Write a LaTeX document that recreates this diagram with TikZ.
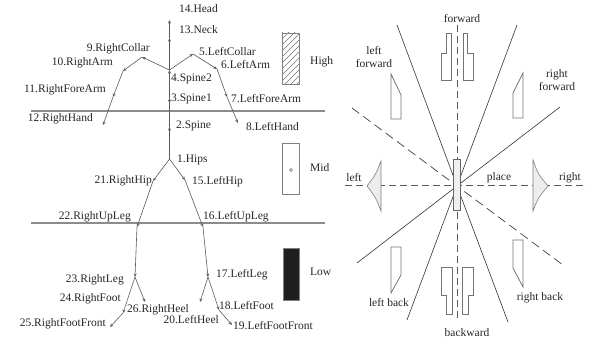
\documentclass[tikz,border=0pt]{standalone}
\usepackage{fontspec}
\setmainfont{Liberation Serif}
\usetikzlibrary{arrows.meta}
\tikzset{
  bone/.style={draw=black!65, line width=0.6pt, -{Stealth[length=3.6pt,width=3pt]}},
  lbl/.style={inner sep=0pt, font=\fontsize{11.5}{13}\selectfont, text=black!85},
  sep/.style={draw=black!45, line width=1.1pt},
  ray/.style={draw=black!80, line width=0.6pt},
  dray/.style={draw=black!75, line width=0.7pt, dash pattern=on 9pt off 5pt},
  axis/.style={draw=black!65, line width=1pt, dash pattern=on 7pt off 4pt},
  print/.style={draw=black!55, line width=0.8pt, fill=white},
  wedge/.style={draw=black!50, line width=0.6pt, fill=black!7},
  zone/.style={draw=black!50, line width=0.6pt}
}
\begin{document}
\begin{tikzpicture}[x=1pt,y=-1pt]
\useasboundingbox (0,0) rectangle (594,344);

% ---------- body-part zone separators ----------
\draw[sep] (31,111) -- (325,111);
\draw[sep] (31,223) -- (325,223);

% ---------- skeleton joints ----------
\coordinate (hips)   at (169.5,159);
\coordinate (spine)  at (169.5,127);
\coordinate (spinea) at (169.5,98);
\coordinate (spineb) at (169.5,70);
\coordinate (neck)   at (169.5,38);
\coordinate (head)   at (169.5,20);
\coordinate (rcollar) at (142,57);
\coordinate (rarm)    at (123,71);
\coordinate (rfore)   at (113,97);
\coordinate (rhand)   at (103,125);
\coordinate (lcollar) at (193,54);
\coordinate (larm)    at (217,69);
\coordinate (lfore)   at (227,97);
\coordinate (lhand)   at (238,123);
\coordinate (rhip)   at (153,181);
\coordinate (rupleg) at (137,227);
\coordinate (rleg)   at (135,277);
\coordinate (rfoot)  at (123,313);
\coordinate (rfront) at (110,327);
\coordinate (rheel)  at (145,302);
\coordinate (lhip)   at (185,180);
\coordinate (lupleg) at (203,227);
\coordinate (lleg)   at (208,277);
\coordinate (lfoot)  at (219,310);
\coordinate (lfront) at (232,325);
\coordinate (lheel)  at (200,302);

% ---------- bones (parent -> child) ----------
\draw[bone] (hips) -- (spine);
\draw[bone] (spine) -- (spinea);
\draw[bone] (spinea) -- (spineb);
\draw[bone] (spineb) -- (neck);
\draw[bone] (neck) -- (head);
\draw[bone] (spineb) -- (rcollar);
\draw[bone] (rcollar) -- (rarm);
\draw[bone] (rarm) -- (rfore);
\draw[bone] (rfore) -- (rhand);
\draw[bone] (spineb) -- (lcollar);
\draw[bone] (lcollar) -- (larm);
\draw[bone] (larm) -- (lfore);
\draw[bone] (lfore) -- (lhand);
\draw[bone] (hips) -- (rhip);
\draw[bone] (rhip) -- (rupleg);
\draw[bone] (rupleg) -- (rleg);
\draw[bone] (rleg) -- (rfoot);
\draw[bone] (rfoot) -- (rfront);
\draw[bone] (rleg) -- (rheel);
\draw[bone] (hips) -- (lhip);
\draw[bone] (lhip) -- (lupleg);
\draw[bone] (lupleg) -- (lleg);
\draw[bone] (lleg) -- (lfoot);
\draw[bone] (lfoot) -- (lfront);
\draw[bone] (lleg) -- (lheel);

% ---------- joint labels ----------
\node[lbl, anchor=west] (t14) at (179,9)   {14.Head};
\node[lbl, anchor=west] (t13) at (179,30)  {13.Neck};
\node[lbl, anchor=east] (t9)  at (150,49)  {9.RightCollar};
\node[lbl, anchor=east] (t10) at (113,63)  {10.RightArm};
\node[lbl, anchor=east] (t11) at (106,90)  {11.RightForeArm};
\node[lbl, anchor=east] (t12) at (93,119)  {12.RightHand};
\node[lbl, anchor=west] (t5)  at (199,52)  {5.LeftCollar};
\node[lbl, anchor=west] (t6)  at (221,65)  {6.LeftArm};
\node[lbl, anchor=west] (t4)  at (171,79)  {4.Spine2};
\node[lbl, anchor=west] (t3)  at (171,99)  {3.Spine1};
\node[lbl, anchor=west] (t7)  at (231,99)  {7.LeftForeArm};
\node[lbl, anchor=west] (t2)  at (176,126) {2.Spine};
\node[lbl, anchor=west] (t8)  at (246,127) {8.LeftHand};
\node[lbl, anchor=west] (t1)  at (177,160) {1.Hips};
\node[lbl, anchor=west] (t15) at (192,182) {15.LeftHip};
\node[lbl, anchor=east] (t21) at (152,181) {21.RightHip};
\node[lbl, anchor=east] (t22) at (131,217) {22.RightUpLeg};
\node[lbl, anchor=west] (t16) at (203,217) {16.LeftUpLeg};
\node[lbl, anchor=east] (t23) at (124,280) {23.RightLeg};
\node[lbl, anchor=east] (t24) at (121,299) {24.RightFoot};
\node[lbl, anchor=east] (t25) at (106,324) {25.RightFootFront};
\node[lbl, anchor=west] (t26) at (127,310) {26.RightHeel};
\node[lbl, anchor=east] (t20) at (219,320) {20.LeftHeel};
\node[lbl, anchor=west] (t17) at (216,275) {17.LeftLeg};
\node[lbl, anchor=west] (t18) at (219,306) {18.LeftFoot};
\node[lbl, anchor=west] (t19) at (233,326) {19.LeftFootFront};

% ---------- zone legend ----------
% high zone: hatched box
\begin{scope}
  \clip (282,33) rectangle (299,84);
  \foreach \k in {0,...,12}
    \draw[black!55, line width=0.45pt] (282,{33+6*\k}) -- (299,{16+6*\k});
\end{scope}
\draw[zone] (282,33) rectangle (299,84);
\node[lbl, anchor=west] (high) at (310,62) {High};
% middle zone
\draw[zone, fill=white] (282,143) rectangle (299,194);
\draw[black!60, line width=0.5pt] (291,170) circle (1.5pt);
\node[lbl, anchor=west] (mid) at (310,168) {Mid};
% low zone
\draw[zone, fill=black!88] (283,248) rectangle (299,300);
\node[lbl, anchor=west] (low) at (310,272) {Low};

% ---------- direction panel ----------
\coordinate (c) at (457,186);
% axes
\draw[axis] (457,25) -- (457,320);
\draw[axis] (345,186) -- (587,186);
% steep sector borders
\draw[ray] (397,25) -- (c) -- (508,322);
\draw[ray] (517,25) -- (c) -- (407,320);
% shallow sector borders
\draw[ray] (560,107) -- (c) -- (357,263);
\draw[dray] (352,108) -- (c) -- (563,265);

% footprints: forward
\draw[print] (446,33) -- (451,33) -- (451,80) -- (441,80) -- (441,53) -- (446,53) -- cycle;
\draw[print] (463,33) -- (467,33) -- (467,53) -- (473,53) -- (473,80) -- (463,80) -- cycle;
% footprints: backward
\draw[print] (441,267) -- (452,267) -- (452,314) -- (446,314) -- (446,295) -- (441,295) -- cycle;
\draw[print] (462,267) -- (473,267) -- (473,295) -- (468,295) -- (468,314) -- (462,314) -- cycle;
% diagonal steps
\draw[print] (391,74) -- (401,95) -- (401,119) -- (391,119) -- cycle;
\draw[print] (513,93) -- (523,73) -- (523,118) -- (513,118) -- cycle;
\draw[print] (391,247) -- (401,247) -- (401,275) -- (391,293) -- cycle;
\draw[print] (513,240) -- (523,240) -- (523,287) -- (513,268) -- cycle;
% side steps
\draw[wedge] (381,161) .. controls (376,174) .. (367,186) .. controls (376,198) .. (381,211) -- cycle;
\draw[wedge] (533,160) .. controls (538,174) .. (548,186) .. controls (538,198) .. (533,211) -- cycle;
% standing place
\draw[draw=black!60, line width=0.7pt, fill=black!6] (453.5,159) rectangle (460.5,210);

% direction labels
\node[lbl] (fw)  at (462,19)  {forward};
\node[lbl, align=center] (lfw) at (374,57) {left\\forward};
\node[lbl, align=center] (rfw) at (557,80) {right\\forward};
\node[lbl] (lt)  at (354,178) {left};
\node[lbl] (pl)  at (499,178) {place};
\node[lbl] (rt)  at (570,178) {right};
\node[lbl] (lb)  at (389,303) {left back};
\node[lbl] (rb)  at (540,298) {right back};
\node[lbl] (bw)  at (467,333) {backward};
\end{tikzpicture}
\end{document}
